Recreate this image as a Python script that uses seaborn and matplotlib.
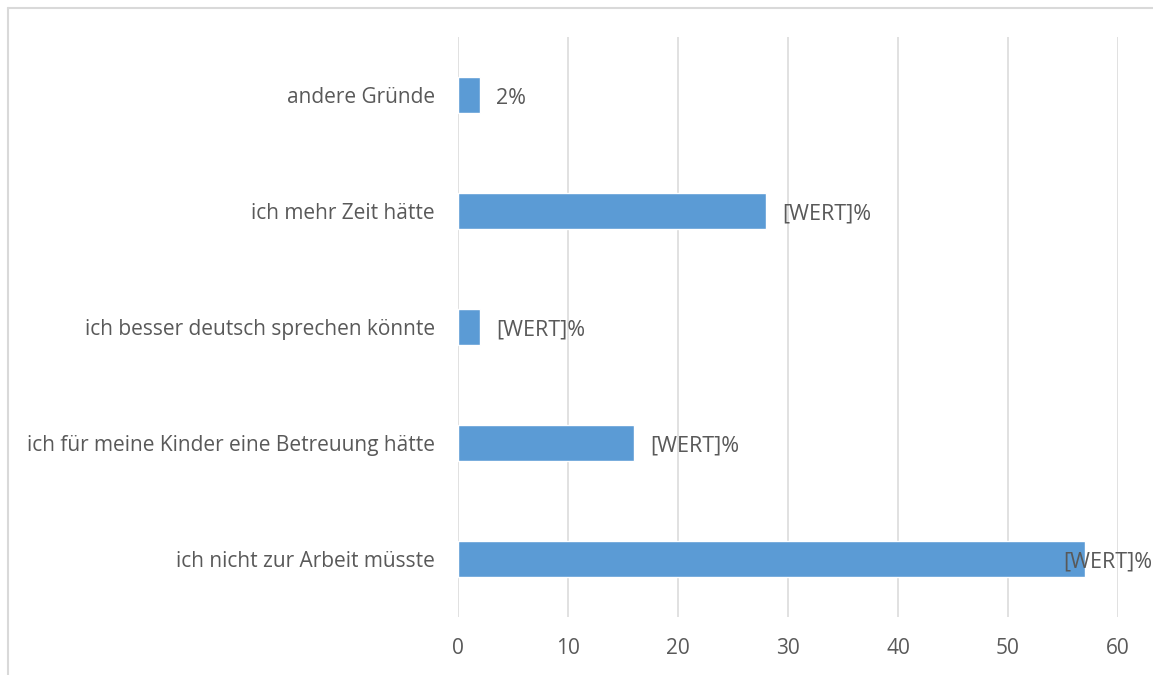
import matplotlib
matplotlib.use("Agg")
import matplotlib.pyplot as plt
import seaborn as sns
import pandas as pd
from matplotlib.lines import Line2D

categories = [
    "andere Gründe",
    "ich mehr Zeit hätte",
    "ich besser deutsch sprechen könnte",
    "ich für meine Kinder eine Betreuung hätte",
    "ich nicht zur Arbeit müsste",
]
values = [2, 28, 2, 16, 57]
bar_labels = ["2%", "[WERT]%", "[WERT]%", "[WERT]%", "[WERT]%"]
x_ticks = [0, 10, 20, 30, 40, 50, 60]

sns.set_style("white")
plt.rcParams['font.family'] = ['Open Sans', 'DejaVu Sans']
text_col = '#595959'
grid_col = '#D9D9D9'

df = pd.DataFrame({'cat': categories, 'val': values})

fig = plt.figure(figsize=(11.53, 6.75), dpi=100)
ax = fig.add_axes([458 / 1153, 58 / 675, 660 / 1153, 580 / 675])

sns.barplot(data=df, x='val', y='cat', orient='h', color='#5B9BD5',
            width=0.31, saturation=1, ax=ax, zorder=3)

ax.set_xlim(0, 60)
ax.set_xticks(x_ticks)
ax.set_xticklabels([str(t) for t in x_ticks])
ax.xaxis.grid(True, color=grid_col, linewidth=1.1, zorder=0)
ax.set_axisbelow(True)
for s in ax.spines.values():
    s.set_visible(False)
ax.tick_params(axis='both', length=0, labelsize=15, colors=text_col)
ax.tick_params(axis='x', pad=15)
ax.tick_params(axis='y', pad=16.5)
ax.set_xlabel('')
ax.set_ylabel('')

for i, (v, lab) in enumerate(zip(values, bar_labels)):
    # the widest bar gets its label pulled back over the bar end
    x_anchor, dx = (55, 0) if v > 50 else (v, 11.5)
    ax.annotate(lab, (x_anchor, i), xytext=(dx, -2.5), textcoords='offset points',
                va='center', ha='left', fontsize=15.5, color=text_col,
                annotation_clip=False, zorder=4)

# chart frame (top and left edges visible)
fig.add_artist(Line2D([8 / 1153, 1], [1 - 7.5 / 675, 1 - 7.5 / 675],
                      color=grid_col, linewidth=1.5, transform=fig.transFigure))
fig.add_artist(Line2D([8 / 1153, 8 / 1153], [0, 1 - 7.5 / 675],
                      color=grid_col, linewidth=1.5, transform=fig.transFigure))

fig.savefig('out.png', dpi=100)
plt.close(fig)
